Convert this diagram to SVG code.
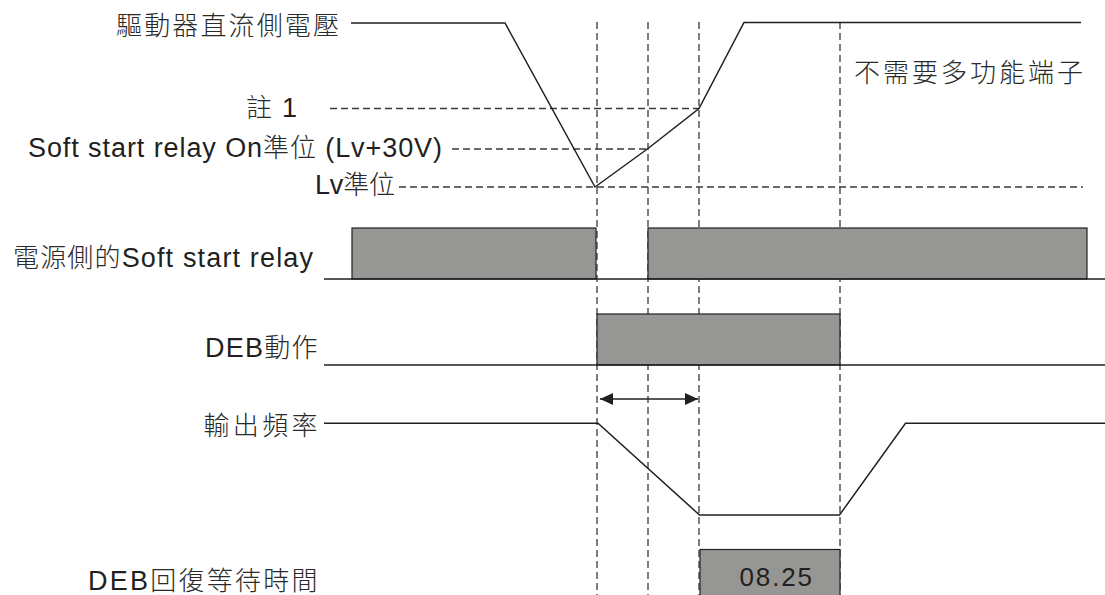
<svg xmlns="http://www.w3.org/2000/svg" width="1105" height="595" viewBox="0 0 1105 595">
<style>
  .lbl { font-family: "Liberation Sans", "Noto Sans CJK TC", Arial, sans-serif; font-size: 27px; fill: #231f20; }
  .cjk { font-family: "Noto Sans CJK TC", "Noto Sans CJK SC", sans-serif; font-size: 26px; font-weight: 300; fill: #2a2a2a; }
  .sig { fill: none; stroke: #231f20; stroke-width: 1.5; stroke-linejoin: miter; }
  .guide { fill: none; stroke: #3a3a3a; stroke-width: 1.3; stroke-dasharray: 7 4; }
  .box { fill: #969695; stroke: #231f20; stroke-width: 1.2; }
</style>
<defs>
  <marker id="ah" markerUnits="userSpaceOnUse" markerWidth="13" markerHeight="12" refX="13" refY="6" orient="auto-start-reverse">
    <path d="M0,0 L13,6 L0,12 z" fill="#231f20"/>
  </marker>
</defs>
<rect width="1105" height="595" fill="#ffffff"/>

<g id="connectors">
  <!-- vertical timing guides -->
  <line class="guide" x1="597" y1="22" x2="597" y2="595"/>
  <line class="guide" x1="648" y1="22" x2="648" y2="595"/>
  <line class="guide" x1="699" y1="22" x2="699" y2="595"/>
  <line class="guide" x1="840" y1="22" x2="840" y2="595"/>
  <!-- level guides -->
  <line class="guide" x1="330" y1="108.5" x2="699" y2="108.5"/>
  <line class="guide" x1="452" y1="149" x2="648" y2="149"/>
  <line class="guide" x1="399" y1="187" x2="1083" y2="187"/>
  <!-- time span arrow -->
  <line x1="600" y1="399" x2="698" y2="399" stroke="#231f20" stroke-width="1.5" marker-start="url(#ah)" marker-end="url(#ah)"/>
</g>

<g id="dc-voltage">
  <text class="lbl" x="116" y="34.5" textLength="223" lengthAdjust="spacing"><tspan class="cjk">驅動器直流側電壓</tspan></text>
  <polyline class="sig" points="351,23 505,23 595,187 648,148.5 699,108.5 744,22.5 1081,22.5"/>
</g>

<g id="note1">
  <text class="lbl" x="246" y="117" textLength="51" lengthAdjust="spacing"><tspan class="cjk">註</tspan> 1</text>
</g>

<g id="soft-start-level">
  <text class="lbl" x="28" y="157" textLength="414" lengthAdjust="spacing">Soft start relay On<tspan class="cjk">準位</tspan> (Lv+30V)</text>
</g>

<g id="lv-level">
  <text class="lbl" x="315" y="194" textLength="80" lengthAdjust="spacing">Lv<tspan class="cjk">準位</tspan></text>
</g>

<g id="no-multifunction">
  <text class="lbl" x="854" y="81.5" textLength="229" lengthAdjust="spacing"><tspan class="cjk">不需要多功能端子</tspan></text>
</g>

<g id="soft-start-relay">
  <text class="lbl" x="13" y="266.5" textLength="300" lengthAdjust="spacing"><tspan class="cjk">電源側的</tspan>Soft start relay</text>
  <rect class="box" x="352" y="228" width="244" height="51"/>
  <rect class="box" x="648" y="228" width="439" height="51"/>
  <line class="sig" x1="324" y1="279" x2="1105" y2="279"/>
</g>

<g id="deb-action">
  <text class="lbl" x="205" y="357" textLength="112.5" lengthAdjust="spacing">DEB<tspan class="cjk">動作</tspan></text>
  <rect class="box" x="597" y="314" width="243" height="51"/>
  <line class="sig" x1="324" y1="365" x2="1105" y2="365"/>
</g>

<g id="output-frequency">
  <text class="lbl" x="203.5" y="434.5" textLength="114" lengthAdjust="spacing"><tspan class="cjk">輸出頻率</tspan></text>
  <polyline class="sig" points="324,423.3 598,423.3 699.5,515 839.5,515 905.5,423.3 1105,423.3"/>
</g>

<g id="deb-wait-time">
  <text class="lbl" x="88" y="589.5" textLength="229.5" lengthAdjust="spacing">DEB<tspan class="cjk">回復等待時間</tspan></text>
  <rect class="box" x="700" y="549.5" width="140" height="60"/>
  <text class="lbl" x="739.5" y="585.7" style="font-size:26px" textLength="72.5" lengthAdjust="spacing">08.25</text>
</g>
</svg>
